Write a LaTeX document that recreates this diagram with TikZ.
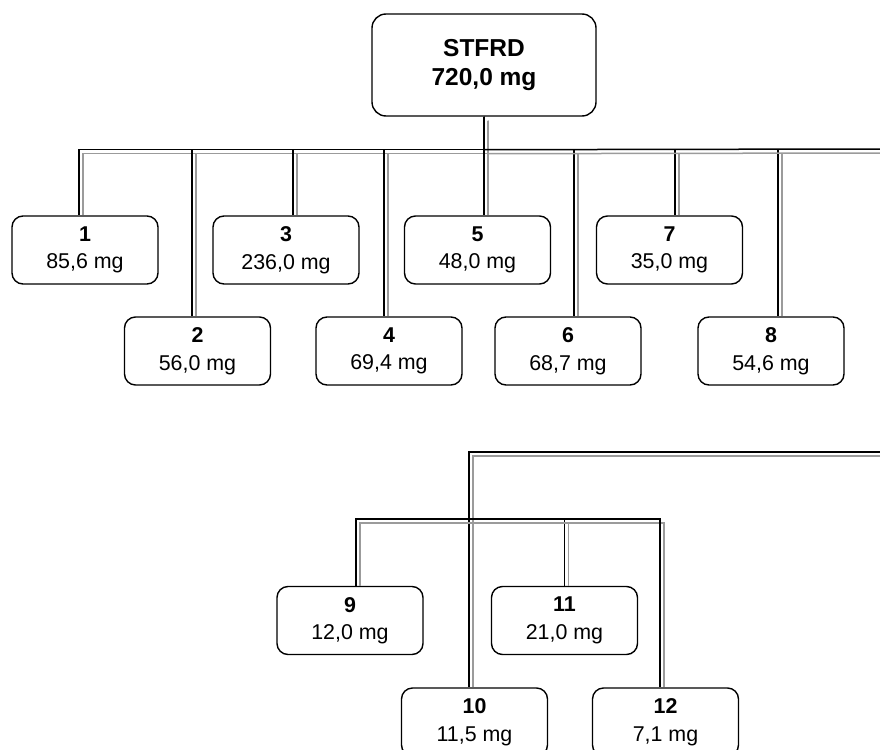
\documentclass[tikz,border=0pt]{standalone}
\usepackage{fontspec}
\setmainfont{Liberation Sans}
\usepackage{tikz}
\usetikzlibrary{calc}
\definecolor{lineGrey}{RGB}{155,155,155}

\tikzset{
  fracbox/.style={draw, fill=white, line width=1.4pt, rounded corners=11pt,
    minimum width=146pt, minimum height=68pt, inner sep=0pt, align=center,
    font=\fontsize{21.4}{27.5}\selectfont},
  link/.style={draw=black, line width=1.5pt,
    preaction={draw=lineGrey, line width=1.5pt, shorten >=4pt,
      transform canvas={shift={(4pt,-4pt)}}}},
}

\begin{document}
\begin{tikzpicture}[x=1pt, y=-1pt]
\path[use as bounding box, clip] (0,0) rectangle (880,749);

% --- Root -----------------------------------------------------------
\node[fracbox, minimum width=224pt, minimum height=102pt, rounded corners=14pt,
  font=\fontsize{24.5}{29}\selectfont\bfseries] (stfrd) at (484,65) {STFRD\\720,0 mg};

% --- First level, staggered in two rows --------------------------------
\node[fracbox] (f1) at (85,250)    {\textbf{1}\\85,6 mg};
\node[fracbox] (f3) at (286,250)   {\textbf{3}\\236,0 mg};
\node[fracbox] (f5) at (477.5,250) {\textbf{5}\\48,0 mg};
\node[fracbox] (f7) at (669.5,250) {\textbf{7}\\35,0 mg};

\node[fracbox] (f2) at (197.5,351) {\textbf{2}\\56,0 mg};
\node[fracbox] (f4) at (389,351)   {\textbf{4}\\69,4 mg};
\node[fracbox] (f6) at (568,351)   {\textbf{6}\\68,7 mg};
\node[fracbox] (f8) at (771,351)   {\textbf{8}\\54,6 mg};

% --- Sub-fractions --------------------------------------------------------
\node[fracbox] (f9)  at (350,620.5)   {\textbf{9}\\12,0 mg};
\node[fracbox] (f11) at (564.5,620.5) {\textbf{11}\\21,0 mg};
\node[fracbox] (f10) at (474.5,722)   {\textbf{10}\\11,5 mg};
\node[fracbox] (f12) at (665.5,722)   {\textbf{12}\\7,1 mg};

% Connectors: black line, grey copy shifted right and down
\foreach \f/\dx in {1/-6, 2/-5.5, 3/7, 4/-5, 5/6.5, 6/6, 7/5.5, 8/7} {
  \draw[link] (stfrd.south) -- ++(0,33) -| ([xshift=\dx pt]f\f.north);
}
\coordinate (busOut) at (880,149);
\draw[link] (stfrd.south) -- ++(0,33) -- (busOut);

% second part, fed from the right edge
\coordinate (feedIn) at (880,452);
\coordinate (hub) at (469,519);
\draw[link] (feedIn) -| ([xshift=-5.5pt]f10.north);
\draw[link] (hub) -| ([xshift=6pt]f9.north);
\draw[link] (hub) -| (f11.north);
\draw[link] (hub) -| ([xshift=-5.5pt]f12.north);
\end{tikzpicture}
\end{document}
